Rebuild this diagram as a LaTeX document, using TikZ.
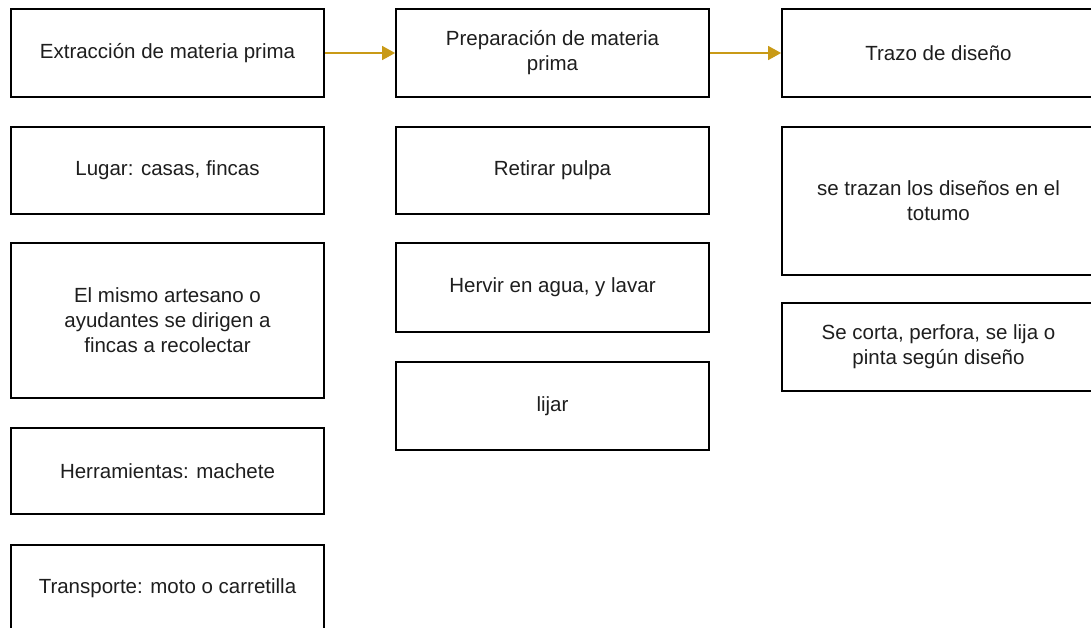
\documentclass[tikz,border=0pt]{standalone}
\usepackage{fontspec}
\setmainfont{Liberation Sans}
\usetikzlibrary{arrows.meta}
\definecolor{gold}{HTML}{C99A16}
\definecolor{txt}{HTML}{1E1E1E}
\begin{document}
\begin{tikzpicture}[x=1pt,y=-1pt,
  box/.style={draw=black, line width=1.8pt, fill=white, minimum width=313pt,
    inner sep=0pt, align=center, text=txt,
    font=\fontsize{20.5}{25}\selectfont},
  arr/.style={draw=gold, line width=1.4pt, -{Triangle[length=13pt,width=14pt]}}]
\clip (0,0) rectangle (1091,627);
\fill[white] (0,0) rectangle (1091,627);
% column 1
\node[box, minimum height=88pt] (e1) at (167.5,53) {Extracción de materia prima};
\node[box, minimum height=87pt] (e2) at (167.5,170.5) {Lugar: casas, fincas};
\node[box, minimum height=155pt] (e3) at (167.5,320.5) {El mismo artesano o\\ayudantes se dirigen a\\fincas a recolectar};
\node[box, minimum height=86pt] (e4) at (167.5,471) {Herramientas: machete};
\node[box, minimum height=87pt] (e5) at (167.5,588.5) {Transporte: moto o carretilla};
% column 2
\node[box, minimum height=88pt] (p1) at (552.5,53) {Preparación de materia\\prima};
\node[box, minimum height=87pt] (p2) at (552.5,170.5) {Retirar pulpa};
\node[box, minimum height=89pt] (p3) at (552.5,287.5) {Hervir en agua, y lavar};
\node[box, minimum height=88pt] (p4) at (552.5,406) {lijar};
% column 3
\node[box, minimum height=88pt] (t1) at (938.5,53) {Trazo de diseño};
\node[box, minimum height=148pt] (t2) at (938.5,201) {se trazan los diseños en el\\totumo};
\node[box, minimum height=88pt] (t3) at (938.5,347) {Se corta, perfora, se lija o\\pinta según diseño};
% connectors
\draw[arr] (e1) -- (p1);
\draw[arr] (p1) -- (t1);
\end{tikzpicture}
\end{document}
